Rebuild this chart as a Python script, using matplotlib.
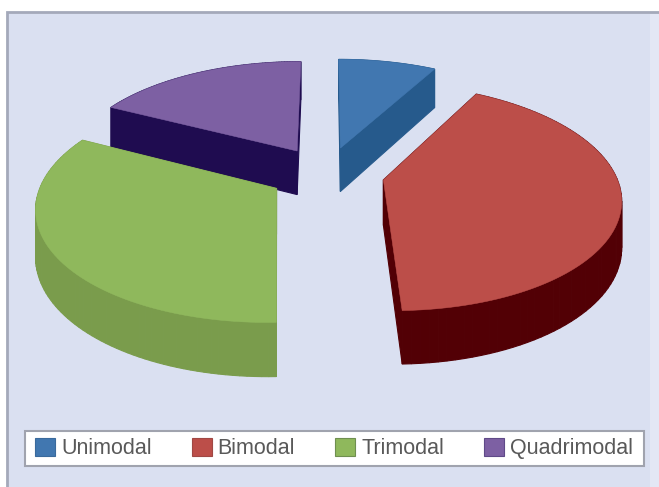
#!/usr/bin/env python3

import numpy as np
import matplotlib
matplotlib.use('Agg')
import matplotlib.pyplot as plt
from matplotlib.patches import Patch, Polygon, Rectangle

labels = ['Unimodal', 'Bimodal', 'Trimodal', 'Quadrimodal']
shares = [8, 41.5, 33, 17.5]
top_colors = ['#4177B0', '#BC4E49', '#8FB85C', '#7D60A3']
side_colors = ['#265A8C', '#520005', '#7A9C4C', '#1F0C50']
swatch_edges = ['#3A6A9C', '#A04844', '#6F8F50', '#5F4A88']

W, H = 659, 487
CX, CY = 326.5, 173.5  # pie centre, pixels
A, B = 232, 109        # ellipse half axes
K = 0.15               # perspective: far side looks smaller
DEPTH = 45
EXPLODE = 0.25


def project(u, v):
    w = 1 + K * v
    return CX + A * u / w, CY - B * v / w


def drop(v):
    return DEPTH / (1 + K * v)


def draw_slice(ax, start, end, top, side, z):
    mid = (start + end) / 2
    du, dv = EXPLODE * np.sin(mid), EXPLODE * np.cos(mid)
    angles = np.linspace(start, end, 80)
    u = np.concatenate([[du], du + np.sin(angles), [du]])
    v = np.concatenate([[dv], dv + np.cos(angles), [dv]])
    x, y = project(u, v)
    low = y + drop(v)
    # extruded edges first, the top face covers whatever is behind it
    for i in range(len(x) - 1):
        quad = [(x[i], y[i]), (x[i + 1], y[i + 1]), (x[i + 1], low[i + 1]), (x[i], low[i])]
        ax.add_patch(Polygon(quad, closed=True, fc=side, ec=side, lw=0.8, zorder=z))
    ax.add_patch(Polygon(np.column_stack([x, y]), closed=True, fc=top, ec=top, lw=0.4, zorder=z + 0.5))


fig = plt.figure(figsize=(W / 100, H / 100), dpi=100, facecolor='white')
ax = fig.add_axes([0, 0, 1, 1])
ax.set_xlim(0, W)
ax.set_ylim(H, 0)
ax.axis('off')

ax.add_patch(Rectangle((7, 12), W, H, fc='#E3E7F5', ec='#A4A9BA', lw=2, zorder=0))
ax.add_patch(Rectangle((9, 14), 641, H, fc='#DAE0F1', ec='none', zorder=0.1))

edges = np.radians(np.cumsum([0] + shares) * 3.6)
# back slices first
order = {0: 1, 3: 2, 1: 3, 2: 4}
for i in range(len(shares)):
    draw_slice(ax, edges[i], edges[i + 1], top_colors[i], side_colors[i], order[i])

# legend box drawn by hand, its padding is wider than it is tall
ax.add_patch(Rectangle((25, 431), 619, 35, fc='white', ec='#A0A3AE', lw=1.5, zorder=9))
handles = [Patch(fc=c, ec=s, lw=0.8) for c, s in zip(top_colors, swatch_edges)]
fig.legend(handles, labels, ncols=4, loc='center', bbox_to_anchor=(334 / W, 1 - 448.5 / H),
           frameon=False, labelcolor='#595959',
           handlelength=0.93, handleheight=0.95, handletextpad=0.28, columnspacing=1.85,
           borderpad=0, prop={'family': 'Liberation Sans', 'size': 15.5})

fig.savefig('out.png', dpi=100)
